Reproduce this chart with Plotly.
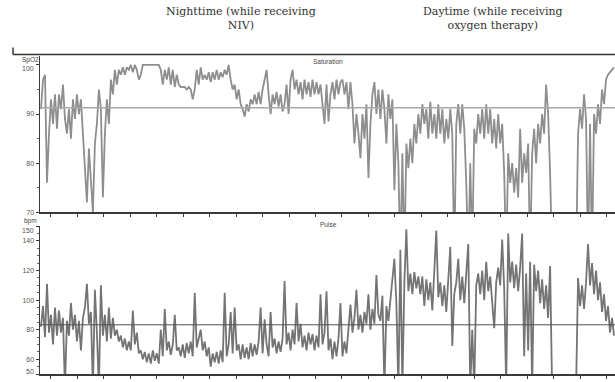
import plotly.graph_objects as go
import numpy as np

# ---------------- data (one sample ≈ 2 px) ----------------
spo2 = [
    91, 97, 98, 76, 86, 93, 88, 94, 87, 94,
    91, 96, 89, 86, 91, 85, 93, 89, 94, 90,
    93, 86, 80, 72, 83, 76, 70, 84, 88, 95,
    91, 73, 86, 93, 88, 97, 94, 99, 96, 99,
    98, 99.5, 98, 99.5, 99, 100, 98.5, 100, 99, 97,
    98, 100, 100, 100, 100, 100, 100, 100, 100, 100,
    99, 96, 99, 97, 99.5, 96, 99, 95.5, 98, 96,
    95.5, 95.5, 95.5, 95, 95.5, 95, 93, 95, 99, 96,
    99.5, 97, 98, 97, 98.5, 96.5, 98.5, 97, 99, 97,
    98.5, 97.5, 99, 98, 100, 97, 95, 96, 93, 95,
    92, 91, 89.5, 92, 90.5, 93, 92, 94, 92, 94.5,
    92, 95, 97, 99, 94, 90, 94, 92, 94.5, 91.5,
    94, 90.5, 92, 96, 90, 97, 99, 95, 97, 94,
    96.5, 93, 97, 94, 96.5, 93.5, 97, 94, 96.5, 94,
    96, 92, 88, 96, 88.5, 94, 96.5, 93, 97, 94,
    96.5, 97, 94, 96.5, 91, 96.5, 92, 84, 90, 86,
    81, 90, 85, 92, 77, 88, 94, 96.5, 90, 95,
    89, 95, 91, 84, 94, 89, 93, 74.5, 88, 80,
    60, 82, 60, 84, 79, 85, 80, 88, 84, 90,
    86, 92, 88, 91, 85, 92.5, 86, 90, 85, 92,
    86, 91, 84, 89, 85, 91, 86, 60, 88, 92,
    86, 92, 87, 76, 60, 80, 62, 87, 84, 90,
    86, 91, 85, 92, 86, 91, 84, 89, 83, 90,
    84, 88, 78, 60, 82, 76, 80, 74, 79, 73,
    87, 76, 82, 78, 84, 60, 82, 87, 80, 88,
    84, 90, 86, 96, 90, 78,
    60,
    None, None, None, None, None, None, None, None, None, None, None,
    60,
    86, 91, 87, 94, 89, 60, 88, 60, 90, 86,
    92, 88, 95, 92, 97, 98, 98.5, 99, 99.5,
]

pulse = [
    82, 96, 75, 111, 78, 90, 70, 95, 76, 93,
    78, 88, 40, 86, 76, 98, 80, 90, 72, 86,
    66, 88, 95, 111, 84, 92, 40, 107, 78, 40,
    110, 76, 90, 72, 95, 74, 88, 76, 80, 72,
    76, 68, 74, 66, 72, 66, 93, 70, 78, 64,
    66, 60, 65, 58, 64, 57, 66, 59, 64, 57,
    80, 62, 94, 66, 72, 63, 70, 90, 66, 68,
    62, 70, 61, 71, 64, 72, 62, 105, 68, 74,
    80, 66, 72, 62, 68, 55, 64, 58, 65, 57,
    66, 58, 105, 62, 70, 92, 64, 95, 66, 70,
    60, 70, 61, 68, 60, 71, 62, 70, 63, 72,
    95, 64, 87, 70, 62, 92, 68, 74, 64, 72,
    65, 74, 113, 70, 78, 66, 80, 70, 98, 72,
    84, 68, 76, 66, 78, 70, 77, 66, 76, 68,
    104, 70, 78, 106, 66, 74, 60, 72, 62, 74,
    98, 62, 72, 64, 80, 97, 78, 88, 107, 80,
    90, 78, 92, 84, 104, 80, 94, 84, 117, 90,
    86, 103, 40, 96, 86, 100, 110, 128, 98, 40,
    134, 40, 112, 148, 106, 118, 104, 119, 108, 116,
    104, 116, 96, 114, 100, 112, 93, 118, 147, 102,
    112, 96, 110, 92, 115, 136, 69, 104, 112, 128,
    100, 116, 98, 120, 138, 40, 80, 40, 110, 118,
    104, 120, 100, 126, 106, 116, 98, 81, 112, 122,
    110, 141, 108, 40, 145, 112, 126, 108, 124, 106,
    122, 145, 62, 118, 66, 126, 40, 124, 106, 120,
    98, 114, 94, 110, 88, 123,
    40,
    None, None, None, None, None, None, None, None, None, None, None,
    40,
    115, 96, 110, 94, 112, 138, 110, 125, 104, 120,
    100, 112, 92, 104, 86, 96, 78, 88, 76,
]

spo2_ticks = [70, 80, 90]
pulse_ticks = [60, 80, 100, 120, 140]
spo2_ref = 91.3
pulse_ref = 83.3

# ---------------- figure ----------------
W, H = 615, 382
def py(p):  # pixel row -> paper fraction
    return 1 - p / H

fig = go.Figure()
fig.add_trace(go.Scatter(y=spo2, mode="lines", connectgaps=False,
                         line=dict(color="#8e8e8e", width=1.8),
                         xaxis="x", yaxis="y", showlegend=False, hoverinfo="skip"))
fig.add_trace(go.Scatter(y=pulse, mode="lines", connectgaps=False,
                         line=dict(color="#747474", width=1.8),
                         xaxis="x2", yaxis="y2", showlegend=False, hoverinfo="skip"))

xticks = list(np.arange(5, 288, 13.25))
xcommon = dict(range=[-0.5, 287.5], domain=[40 / W, 1], showgrid=False, zeroline=False,
               showline=True, linecolor="#3a3a3a", linewidth=1.5, ticks="outside",
               ticklen=3, tickcolor="#3a3a3a", tickvals=xticks, showticklabels=False)
ycommon = dict(showgrid=False, zeroline=False, showline=True, linecolor="#3a3a3a",
               linewidth=1.5, ticks="outside", ticklen=3, tickcolor="#3a3a3a",
               tickfont=dict(family="Liberation Sans", size=7, color="#555"),
               minor=dict(ticks="outside", ticklen=2, tickcolor="#666", dtick=5))

fig.update_layout(
    width=W, height=H, margin=dict(l=0, r=0, t=0, b=0),
    paper_bgcolor="white", plot_bgcolor="white",
    xaxis=dict(anchor="y", **xcommon),
    xaxis2=dict(anchor="y2", **xcommon),
    yaxis=dict(anchor="x", domain=[py(214), py(56)], range=[70, 101.9],
               tickvals=spo2_ticks + [100], ticktext=[str(v) for v in spo2_ticks] + [""],
               **ycommon),
    yaxis2=dict(anchor="x2", domain=[py(377), py(228)], range=[50, 150],
                tickvals=[50] + pulse_ticks + [150],
                ticktext=[""] + [str(v) for v in pulse_ticks] + [""], **ycommon),
)

# reference lines
fig.add_shape(type="line", xref="x domain", yref="y", x0=0, x1=1, y0=spo2_ref, y1=spo2_ref,
              line=dict(color="#a8a8a8", width=1.5))
fig.add_shape(type="line", xref="x2 domain", yref="y2", x0=0, x1=1, y0=pulse_ref, y1=pulse_ref,
              line=dict(color="#505050", width=1))
# frame line above the top panel
fig.add_shape(type="line", xref="paper", yref="paper", x0=13 / W, x1=1, y0=py(55), y1=py(55),
              line=dict(color="#333", width=1.5))
fig.add_shape(type="line", xref="paper", yref="paper", x0=13 / W, x1=13 / W, y0=py(48), y1=py(55),
              line=dict(color="#333", width=1.5))

serif = dict(family="DejaVu Serif, Liberation Serif, serif", size=11, color="#333")
small = dict(family="Liberation Sans, DejaVu Sans, sans-serif", size=6.5, color="#444")
tick_font = dict(family="Liberation Sans", size=7, color="#555")
ann = [
    dict(text="Nighttime (while receiving<br>NIV)", x=241 / W, y=py(18.5), font=serif, xanchor="center"),
    dict(text="Daytime (while receiving<br>oxygen therapy)", x=493 / W, y=py(18.5), font=serif, xanchor="center"),
    dict(text="Saturation", x=328 / W, y=py(62), font=small, xanchor="center"),
    dict(text="Pulse", x=328 / W, y=py(226), font=small, xanchor="center"),
    dict(text="SpO2", x=30 / W, y=py(60), font=small, xanchor="center"),
    dict(text="bpm", x=30 / W, y=py(223), font=small, xanchor="center"),
    dict(text="100", x=36 / W, y=py(69), font=tick_font, xanchor="right"),
    dict(text="150", x=36 / W, y=py(232), font=tick_font, xanchor="right"),
    dict(text="50", x=36 / W, y=py(374), font=tick_font, xanchor="right"),
]
for a in ann:
    fig.add_annotation(xref="paper", yref="paper", showarrow=False,
                       yanchor="middle", align="center", **a)

fig.write_html("out.html", config={"displayModeBar": False, "staticPlot": True},
               post_script="document.body.style.margin='0';")
